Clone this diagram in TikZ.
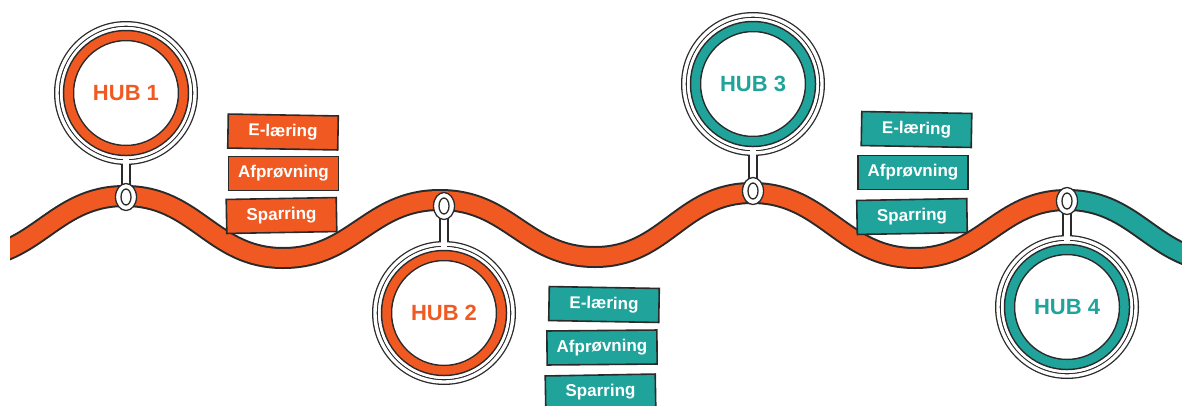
\documentclass[tikz,border=0pt]{standalone}
\usepackage{fontspec}
\setmainfont{Liberation Sans}
\usetikzlibrary{calc}
\usetikzlibrary{shapes.geometric}

\definecolor{hubOrange}{HTML}{F05A22}
\definecolor{hubTeal}{HTML}{1FA39B}
\definecolor{ink}{HTML}{2A2A2A}

\tikzset{
  road/.style={line width=18pt,preaction={draw=ink,line width=22pt}},
  hub/.style={circle,minimum size=138pt,inner sep=0pt,font=\bfseries\fontsize{22}{22}\selectfont},
  pinloop/.style={ellipse,minimum width=21pt,minimum height=27pt,inner sep=0pt,draw=ink,fill=white,line width=1.3pt},
  tagbox/.style={draw=ink,line width=1.6pt,minimum width=110pt,minimum height=34pt,inner sep=0pt,
    text=white,font=\bfseries\fontsize{17}{17}\selectfont}
}

\begin{document}
\begin{tikzpicture}[x=1pt,y=-1pt]
\useasboundingbox[fill=white] (0,0) rectangle (1182,405);

% The road
\begin{scope}
\clip (10,0) rectangle (1182,405);
\draw[road,hubOrange] (-35,258) .. controls (37,258) and (53,196) .. (125,196)
  .. controls (196,196) and (212,258) .. (283,258)
  .. controls (354,258) and (369,200) .. (440,200)
  .. controls (510,200) and (525,257) .. (595,257)
  .. controls (666,257) and (681,193) .. (752,193)
  .. controls (825,193) and (842,258) .. (915,258)
  .. controls (983,258) and (999,200) .. (1067,200);
\draw[road,hubTeal] (1067,200) .. controls (1138,200) and (1154,262) .. (1225,262);
\end{scope}

% Hubs and their pins
\foreach \i/\x/\y/\py/\c in {1/126/93/197/hubOrange,2/444/313/206/hubOrange,3/753/84/191/hubTeal,4/1067/307/201/hubTeal} {
  \node[hub] (hub\i) at (\x,\y) {};
  \coordinate (pin\i) at (\x,\py);
  \draw[ink,line width=9.5pt] (pin\i) -- (hub\i.center);
  \draw[ink,line width=6pt] (hub\i) circle (69pt);
  \draw[white,line width=6pt] (pin\i) -- (hub\i.center);
  \draw[white,line width=3.4pt] (hub\i) circle (69pt);
  \fill[white] (hub\i) circle (66pt);
  \draw[ink,line width=11.5pt] (hub\i) circle (57.5pt);
  \draw[\c,line width=8.5pt] (hub\i) circle (57.5pt);
  \node[hub,text=\c] (label\i) at (hub\i) {HUB \i};
  \node[pinloop] (loop\i) at (pin\i) {};
  \draw[ink,line width=1.3pt] (loop\i) ellipse (5pt and 8pt);
}

% Activity tags
\foreach \n/\x/\y/\r/\c/\t in {
  a1/283/132/-1/hubOrange/E-læring, a2/283.5/173.5/0/hubOrange/Afprøvning, a3/281.5/215.5/1/hubOrange/Sparring,
  b1/604/304.5/-1/hubTeal/E-læring, b2/602/347.5/0.5/hubTeal/Afprøvning, b3/600.5/392/1/hubTeal/Sparring,
  c1/916.5/129.5/-1/hubTeal/E-læring, c2/913/172.5/0/hubTeal/Afprøvning, c3/912/216.5/1/hubTeal/Sparring} {
  \node[tagbox,fill=\c,rotate=\r] (\n) at (\x,\y) {\t};
}
\end{tikzpicture}
\end{document}
